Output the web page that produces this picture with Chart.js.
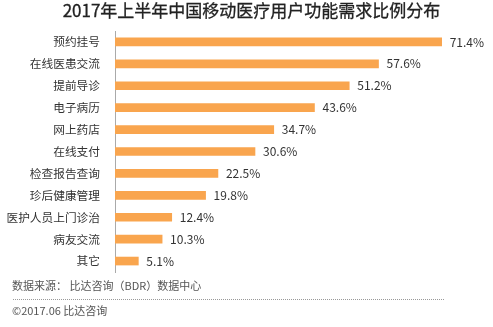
<!DOCTYPE html>
<html>
<head>
<meta charset="utf-8">
<script src="https://cdn.jsdelivr.net/npm/chart.js@4/dist/chart.umd.min.js"></script>
<style>
  html, body { margin: 0; padding: 0; background: #fff; }
  body { width: 493px; height: 327px; position: relative; overflow: hidden; font-family: "Noto Sans CJK SC", sans-serif; }
  #wrap { position: absolute; left: 0; top: 0; width: 493px; height: 327px; }
  #title { position: absolute; left: 5px; top: -2px; width: 493px; text-align: center; font-size: 17px; line-height: 24px; color: #222; font-weight: normal; -webkit-text-stroke: 0.3px #222; }
  .foot { position: absolute; left: 12px; font-size: 11px; color: #555; white-space: nowrap; }
  #source { top: 277px; }
  #rule { position: absolute; left: 13px; top: 299px; width: 431px; border-top: 1px dotted #999; }
  #copy { top: 302px; }
</style>
</head>
<body>
<div id="wrap"><canvas id="chart"></canvas></div>
<div id="title">2017年上半年中国移动医疗用户功能需求比例分布</div>
<div class="foot" id="source">数据来源： 比达咨询（BDR）数据中心</div>
<div id="rule"></div>
<div class="foot" id="copy">©2017.06 比达咨询</div>
<script>
const categories = ["预约挂号", "在线医患交流", "提前导诊", "电子病历", "网上药店", "在线支付", "检查报告查询", "珍后健康管理", "医护人员上门诊治", "病友交流", "其它"];
const shares = [71.4, 57.6, 51.2, 43.6, 34.7, 30.6, 22.5, 19.8, 12.4, 10.3, 5.1];

const valueLabels = {
  id: "valueLabels",
  afterDatasetsDraw(chart) {
    const ctx = chart.ctx;
    const meta = chart.getDatasetMeta(0);
    ctx.save();
    ctx.font = '12px "Noto Sans CJK SC", sans-serif';
    ctx.fillStyle = "#333";
    ctx.textBaseline = "middle";
    ctx.textAlign = "left";
    meta.data.forEach((bar, i) => {
      ctx.fillText(shares[i].toFixed(1) + "%", bar.x + 8, bar.y);
    });
    ctx.restore();
  },
};

new Chart(document.getElementById("chart").getContext("2d"), {
  type: "bar",
  data: {
    labels: categories,
    datasets: [{ data: shares, backgroundColor: "#F9A54E", barThickness: 8 }],
  },
  options: {
    indexAxis: "y",
    responsive: true,
    maintainAspectRatio: false,
    animation: false,
    layout: { padding: { top: 31, bottom: 55, left: 0, right: 12 } },
    plugins: { legend: { display: false }, tooltip: { enabled: false } },
    scales: {
      x: { display: false, min: 0, max: 80 },
      y: {
        grid: { display: false, drawTicks: false },
        border: { display: true, color: "#aaa", width: 1 },
        ticks: { color: "#333", padding: 15, font: { size: 11.7, family: '"Noto Sans CJK SC", sans-serif' } },
        afterFit(axis) { axis.width = 115; },
      },
    },
  },
  plugins: [valueLabels],
});
</script>
</body>
</html>
